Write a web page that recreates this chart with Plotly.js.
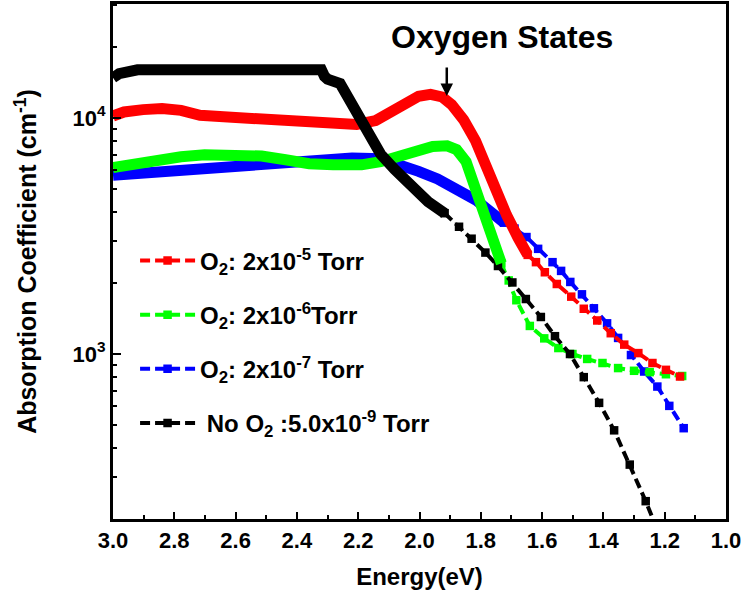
<!DOCTYPE html>
<html>
<head>
<meta charset="utf-8">
<script src="https://cdn.plot.ly/plotly-3.0.1.min.js"></script>
<style>html,body{margin:0;padding:0;background:#fff;}#chart{width:745px;height:602px;}</style>
</head>
<body>
<div id="chart"></div>
<script>
// ---- Data (Energy in eV, absorption coefficient in cm^-1) ----
// O2: 2x10^-5 Torr (red)
const redDenseE = [3.0, 2.964, 2.902, 2.84, 2.778, 2.716, 2.639, 2.561, 2.499, 2.406, 2.313, 2.205, 2.143, 2.096, 2.05, 2.003, 1.964, 1.926, 1.895, 1.856, 1.817, 1.778, 1.747, 1.716, 1.678, 1.647];
const redDenseA = [10200, 10600, 10850, 10970, 10770, 10260, 10110, 10000, 9750, 9600, 9460, 9390, 9750, 10570, 11600, 12360, 12590, 12270, 11390, 9820, 8000, 6050, 4670, 3880, 3100, 2630];
const redSparseE = [1.647, 1.62, 1.591, 1.552, 1.505, 1.464, 1.420, 1.376, 1.332, 1.286, 1.240, 1.196, 1.150];
const redSparseA = [2630, 2450, 2220, 1980, 1750, 1555, 1387, 1225, 1096, 1009, 916, 857, 803];

// O2: 2x10^-6 Torr (green)
const greenDenseE = [3.0, 2.933, 2.856, 2.778, 2.701, 2.592, 2.515, 2.437, 2.36, 2.282, 2.189, 2.127, 2.065, 2.003, 1.957, 1.910, 1.879, 1.848, 1.825, 1.802, 1.786, 1.771, 1.755, 1.745, 1.733];
const greenDenseA = [6170, 6400, 6650, 6850, 6980, 6980, 6900, 6650, 6400, 6330, 6330, 6530, 6900, 7300, 7570, 7620, 7350, 6530, 5420, 4500, 3880, 3340, 2880, 2650, 2420];
const greenSparseE = [1.733, 1.709, 1.684, 1.640, 1.593, 1.547, 1.501, 1.453, 1.403, 1.352, 1.300, 1.249, 1.196, 1.143];
const greenSparseA = [2420, 2050, 1690, 1315, 1165, 1060, 1000, 953, 916, 872, 849, 838, 821, 807];

// O2: 2x10^-7 Torr (blue)
const blueDenseE = [3.0, 2.902, 2.778, 2.67, 2.561, 2.437, 2.329, 2.22, 2.127, 2.065, 2.003, 1.941, 1.879, 1.817, 1.755, 1.724];
const blueDenseA = [5720, 5840, 6010, 6130, 6240, 6400, 6720, 6770, 6720, 6400, 5940, 5520, 5030, 4500, 3880, 3600];
const blueSparseE = [1.724, 1.69, 1.651, 1.613, 1.566, 1.538, 1.508, 1.47, 1.431, 1.388, 1.352, 1.310, 1.267, 1.224, 1.185, 1.138];
const blueSparseA = [3600, 3400, 3130, 2790, 2450, 2250, 2020, 1790, 1562, 1349, 1170, 990, 843, 728, 603, 485];

// No O2: 5.0x10^-9 Torr (black)
const blackDenseE = [3.0, 2.98, 2.92, 2.8, 2.6, 2.5, 2.4, 2.32, 2.31, 2.30, 2.259, 2.22, 2.174, 2.127, 2.081, 2.034, 1.972, 1.918];
const blackDenseA = [14800, 15400, 16000, 16000, 16000, 16200, 16100, 16000, 15000, 14600, 14000, 11400, 8780, 7030, 6050, 5220, 4420, 3950];
const blackSparseE = [1.918, 1.871, 1.830, 1.785, 1.744, 1.697, 1.653, 1.604, 1.558, 1.509, 1.464, 1.414, 1.365, 1.314, 1.262, 1.213];
const blackSparseA = [3950, 3460, 3080, 2690, 2360, 2010, 1710, 1435, 1190, 1000, 798, 621, 475, 340, 238, 166];

const seriesNames = [
  'O<sub>2</sub>: 2x10<sup>-5</sup> Torr',
  'O<sub>2</sub>: 2x10<sup>-6</sup>Torr',
  'O<sub>2</sub>: 2x10<sup>-7</sup> Torr',
  '\u00a0No O<sub>2</sub> :5.0x10<sup>-9</sup> Torr'
];
const seriesColors = ['#ff0000', '#00ff00', '#0000ff', '#000000'];

const xTickVals = [3.0, 2.8, 2.6, 2.4, 2.2, 2.0, 1.8, 1.6, 1.4, 1.2, 1.0];
const yTickVals = [1000, 10000];
const yTickText = ['10<sup>3</sup>', '10<sup>4</sup>'];
const yMinorVals = [200, 300, 400, 500, 600, 700, 800, 900, 2000, 3000, 4000, 5000, 6000, 7000, 8000, 9000, 20000, 30000];

const annotationText = 'Oxygen States';
const arrowE = 1.911, arrowA = 12400;
const labelE = 1.73, labelA = 22000;

// ---- Traces ----
const dense = [
  [blueDenseE, blueDenseA, 2],
  [greenDenseE, greenDenseA, 1],
  [redDenseE, redDenseA, 0],
  [blackDenseE, blackDenseA, 3]
];
const sparse = [
  [blueSparseE, blueSparseA, 2],
  [greenSparseE, greenSparseA, 1],
  [redSparseE, redSparseA, 0],
  [blackSparseE, blackSparseA, 3]
];
const traces = [];
sparse.forEach(([e, a, i]) => {
  traces.push({
    x: e, y: a, type: 'scatter', mode: 'lines+markers',
    name: seriesNames[i], legendgroup: 'g' + i, legendrank: i + 1,
    line: {color: seriesColors[i], width: 4, dash: '10px,5px'},
    marker: {color: seriesColors[i], symbol: 'square', size: 8.5}
  });
});
dense.forEach(([e, a, i]) => {
  traces.push({
    x: e, y: a, type: 'scatter', mode: 'lines', showlegend: false,
    legendgroup: 'g' + i,
    line: {color: seriesColors[i], width: 11}
  });
});

const fontFam = 'Liberation Sans, Arial, sans-serif';
const layout = {
  width: 745, height: 602,
  margin: {l: 113, r: 19, t: 4, b: 83, pad: 0},
  paper_bgcolor: '#fff', plot_bgcolor: '#fff',
  showlegend: true,
  font: {family: fontFam, color: '#000'},
  xaxis: {
    range: [3.0, 1.0], tickvals: xTickVals, tickformat: '.1f',
    ticks: 'inside', ticklen: 7, tickwidth: 2, tickcolor: '#000',
    minor: {ticks: 'inside', dtick: 0.1, ticklen: 4, tickwidth: 2, tickcolor: '#000'},
    showline: true, linewidth: 3, linecolor: '#000', mirror: true,
    showgrid: false, zeroline: false,
    tickfont: {family: fontFam, size: 22, weight: 'bold', color: '#000'},
    title: {text: 'Energy(eV)', font: {family: fontFam, size: 24, weight: 'bold', color: '#000'}, standoff: 16}
  },
  yaxis: {
    type: 'log', range: [Math.log10(200), Math.log10(30400)],
    tickvals: yTickVals, ticktext: yTickText,
    ticks: 'inside', ticklen: 8, tickwidth: 2, tickcolor: '#000',
    minor: {ticks: 'inside', tickvals: yMinorVals, ticklen: 4, tickwidth: 2, tickcolor: '#000'},
    showline: true, linewidth: 3, linecolor: '#000', mirror: true,
    showgrid: false, zeroline: false,
    tickfont: {family: fontFam, size: 22, weight: 'bold', color: '#000'},
    title: {text: 'Absorption Coefficient (cm<sup>-1</sup>)', font: {family: fontFam, size: 25, weight: 'bold', color: '#000'}, standoff: 29}
  },
  legend: {
    x: 0.036, y: 0.545, xanchor: 'left', yanchor: 'top',
    bgcolor: 'rgba(0,0,0,0)', borderwidth: 0,
    tracegroupgap: 20, itemwidth: 55, traceorder: 'grouped',
    font: {family: fontFam, size: 24, weight: 'bold', color: '#000'}
  },
  annotations: [
    {x: labelE, y: Math.log10(labelA), xref: 'x', yref: 'y', text: annotationText, showarrow: false,
     font: {family: fontFam, size: 32, weight: 'bold', color: '#000'}},
    {x: arrowE, y: Math.log10(arrowA), xref: 'x', yref: 'y', text: '', showarrow: true,
     ax: 0, ay: -30, arrowhead: 2, arrowsize: 1, arrowwidth: 2.5, arrowcolor: '#000'}
  ]
};

Plotly.newPlot('chart', traces, layout, {displayModeBar: false, staticPlot: true});
</script>
</body>
</html>
